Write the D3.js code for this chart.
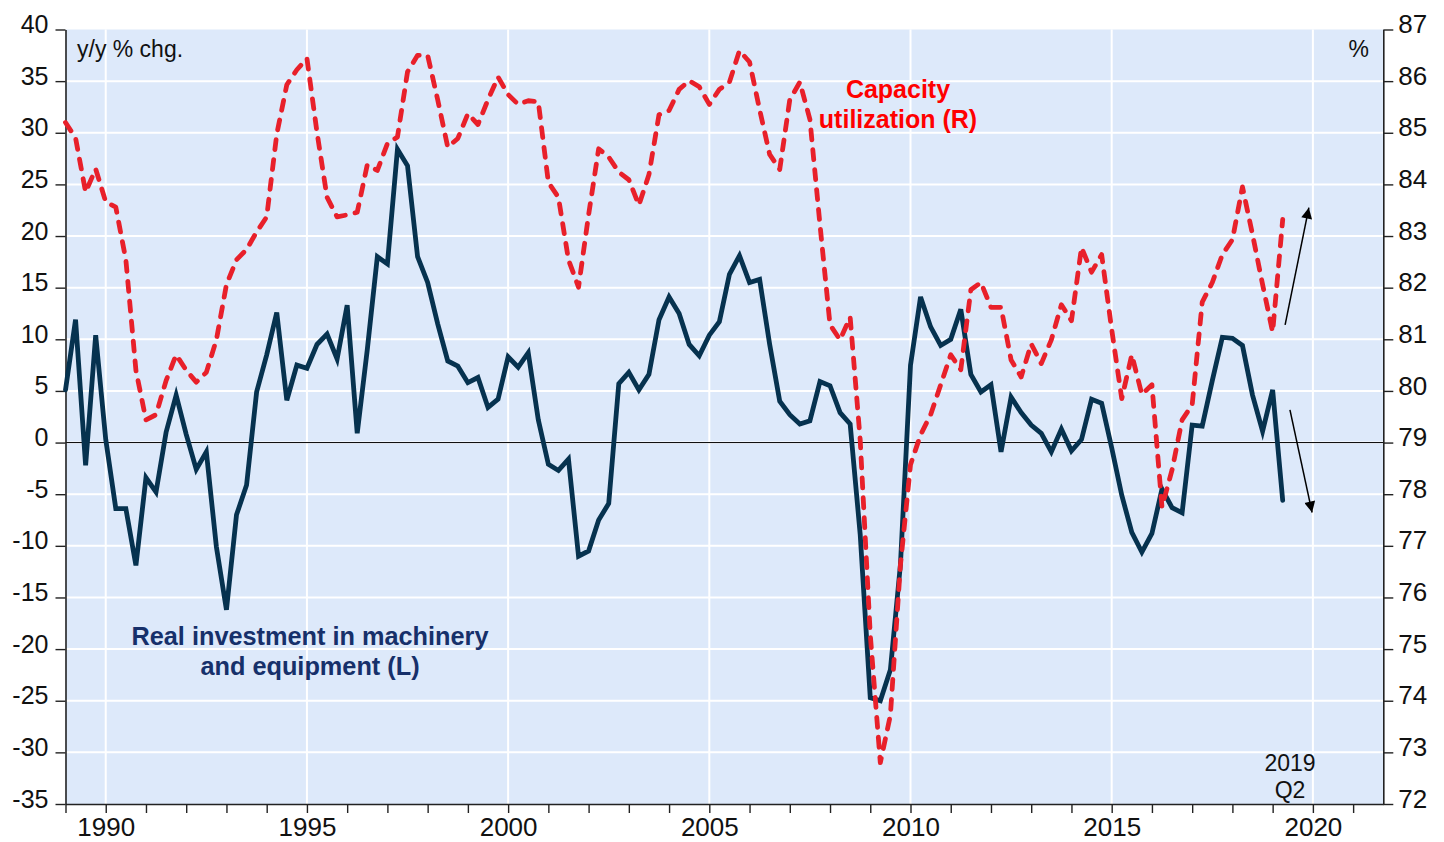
<!DOCTYPE html>
<html>
<head>
<meta charset="utf-8">
<script src="https://cdn.jsdelivr.net/npm/d3@7"></script>
<style>
  html, body { margin: 0; padding: 0; background: #ffffff; }
  svg { display: block; font-family: "Liberation Sans", Arial, sans-serif; }
</style>
</head>
<body>
<svg id="chart" width="1444" height="842"></svg>
<script>
// ---------------- data ----------------
const startYear = 1989;           // first quarter: 1989 Q1
const quartersPerYear = 4;

// Real investment in machinery and equipment, y/y % chg. (left axis)
const investment = [
  5.1, 11.9, -2.2, 10.4, 0.3, -6.4, -6.4, -11.9, -3.4, -4.8, 1.0, 4.6, 0.8, -2.6, -0.9, -10.1, -16.2, -7.0, -4.1, 4.9, 8.5, 12.6,
  4.1, 7.5, 7.2, 9.5, 10.5, 8.1, 13.3, 0.9, 9.0, 18.0, 17.3, 28.4, 26.8, 18.0, 15.5, 11.5, 7.9, 7.4, 5.8, 6.3, 3.4, 4.2,
  8.3, 7.3, 8.7, 2.2, -2.1, -2.7, -1.6, -11.0, -10.5, -7.5, -5.9, 5.7, 6.8, 5.1, 6.6, 11.9, 14.1, 12.5, 9.5, 8.4, 10.4, 11.7,
  16.3, 18.1, 15.5, 15.8, 9.5, 4.0, 2.7, 1.8, 2.1, 5.9, 5.5, 2.9, 1.8, -8.9, -24.7, -25.0, -22.0, -11.8, 7.5, 14.1, 11.2, 9.4,
  10.0, 12.9, 6.6, 4.9, 5.6, -0.9, 4.4, 2.9, 1.7, 0.9, -0.9, 1.3, -0.8, 0.3, 4.2, 3.8, -0.5, -5.1, -8.7, -10.6, -8.8, -4.5,
  -6.3, -6.8, 1.7, 1.6, 6.0, 10.2, 10.1, 9.4, 4.6, 1.1, 5.1, -5.6
];

// Capacity utilization, % (right axis)
const capacity = [
  85.2, 84.9, 83.85, 84.3, 83.66, 83.56, 82.54, 80.4, 79.44, 79.54, 80.2, 80.7, 80.4, 80.17, 80.36, 80.99, 82.06, 82.54, 82.74, 83.08, 83.37, 84.97,
  85.93, 86.22, 86.44, 85.01, 83.75, 83.37, 83.41, 83.46, 84.38, 84.27, 84.79, 84.92, 86.18, 86.5, 86.5, 85.64, 84.72, 84.89, 85.37, 85.16, 85.64, 86.08,
  85.74, 85.55, 85.62, 85.6, 84.04, 83.75, 82.54, 82.01, 83.41, 84.69, 84.53, 84.24, 84.09, 83.6, 84.19, 85.35, 85.43, 85.84, 86.01, 85.89, 85.55, 85.84,
  85.98, 86.59, 86.37, 85.45, 84.58, 84.29, 85.64, 85.98, 85.26, 83.22, 81.28, 80.99, 81.43, 79.05, 75.28, 72.8, 73.72, 76.63, 78.57, 79.15, 79.54, 80.12,
  80.7, 80.41, 81.96, 82.1, 81.62, 81.62, 80.6, 80.27, 80.91, 80.53, 80.99, 81.67, 81.36, 82.78, 82.3, 82.64, 81.19, 79.85, 80.7, 79.93, 80.12, 77.75,
  78.47, 79.44, 79.73, 81.72, 82.1, 82.64, 82.93, 83.95, 83.03, 82.06, 81.14, 83.32
];

const leftTicks  = [40, 35, 30, 25, 20, 15, 10, 5, 0, -5, -10, -15, -20, -25, -30, -35];
const rightTicks = [87, 86, 85, 84, 83, 82, 81, 80, 79, 78, 77, 76, 75, 74, 73, 72];
const yearTicks  = d3.range(1989, 2022);          // minor ticks every year
const yearLabels = [1990, 1995, 2000, 2005, 2010, 2015, 2020];

const leftUnit  = "y/y % chg.";
const rightUnit = "%";
const invLabel  = ["Real investment in machinery", "and equipment (L)"];
const capLabel  = ["Capacity", "utilization (R)"];
const lastLabel = ["2019", "Q2"];

// ---------------- layout ----------------
const plot = { left: 65.5, right: 1383.3, top: 29.5, bottom: 804 };
const bg = "#dde9fa";
const navy = "#06324f";
const red = "#e8202a";

const svg = d3.select("#chart");

const x  = d3.scaleLinear().domain([1989, 2021.75]).range([plot.left, plot.right]);
const yL = d3.scaleLinear().domain([-35, 40]).range([plot.bottom, plot.top]);
const yR = d3.scaleLinear().domain([72, 87]).range([plot.bottom, plot.top]);

const t = i => startYear + i / quartersPerYear;

// background
svg.append("rect")
  .attr("x", plot.left).attr("y", plot.top)
  .attr("width", plot.right - plot.left).attr("height", plot.bottom - plot.top)
  .attr("fill", bg);

// grid
const grid = svg.append("g");
grid.selectAll("line.h").data(leftTicks.filter(v => v > -35 && v < 40)).join("line")
  .attr("x1", plot.left).attr("x2", plot.right)
  .attr("y1", d => yL(d)).attr("y2", d => yL(d))
  .attr("stroke", "#ffffff").attr("stroke-width", 2);
grid.selectAll("line.v").data(yearLabels).join("line")
  .attr("x1", d => x(d)).attr("x2", d => x(d))
  .attr("y1", plot.top).attr("y2", plot.bottom)
  .attr("stroke", "#ffffff").attr("stroke-width", 2);

// zero line
svg.append("line")
  .attr("x1", plot.left).attr("x2", plot.right)
  .attr("y1", yL(0)).attr("y2", yL(0))
  .attr("stroke", "#000").attr("stroke-width", 1);

// axes (plain hyphen for negatives, as in the original)
const plain = d => String(d);
const gL = svg.append("g").attr("transform", `translate(${plot.left},0)`)
  .call(d3.axisLeft(yL).tickValues(leftTicks).tickFormat(plain).tickSize(10).tickPadding(7).tickSizeOuter(0));
gL.selectAll("text").attr("font-size", 25).attr("dy", "0.12em").attr("fill", "#111");

const gR = svg.append("g").attr("transform", `translate(${plot.right},0)`)
  .call(d3.axisRight(yR).tickValues(rightTicks).tickFormat(plain).tickSize(10).tickPadding(5).tickSizeOuter(0));
gR.selectAll("text").attr("font-size", 26).attr("dy", "0.12em").attr("fill", "#111");

const gB = svg.append("g").attr("transform", `translate(0,${plot.bottom})`)
  .call(d3.axisBottom(x).tickValues(yearTicks).tickSize(9).tickSizeOuter(0)
    .tickFormat(d => yearLabels.includes(d) ? String(d) : ""));
gB.selectAll("text").attr("font-size", 26).attr("y", 32).attr("dy", 0).attr("fill", "#111");

[gL, gR, gB].forEach(g => {
  g.select(".domain").attr("stroke", "#222").attr("stroke-width", 1.6);
  g.selectAll(".tick line").attr("stroke", "#222").attr("stroke-width", 1.4);
  g.attr("font-family", "Liberation Sans, Arial, sans-serif");
});

// lines
const lineL = d3.line().x((d, i) => x(t(i))).y(d => yL(d));
const lineR = d3.line().x((d, i) => x(t(i))).y(d => yR(d));

svg.append("path").datum(investment)
  .attr("d", lineL).attr("fill", "none")
  .attr("stroke", navy).attr("stroke-width", 4.8)
  .attr("stroke-linejoin", "miter").attr("stroke-linecap", "round");

svg.append("path").datum(capacity)
  .attr("d", lineR).attr("fill", "none")
  .attr("stroke", red).attr("stroke-width", 4.8)
  .attr("stroke-dasharray", "10,10").attr("stroke-linecap", "round")
  .attr("stroke-linejoin", "round");

// text annotations
svg.append("text").attr("x", 77).attr("y", 57)
  .attr("font-size", 23).attr("fill", "#111").text(leftUnit);
svg.append("text").attr("x", 1369).attr("y", 57).attr("text-anchor", "end")
  .attr("font-size", 23).attr("fill", "#111").text(rightUnit);

const invText = svg.append("text").attr("text-anchor", "middle")
  .attr("font-size", 25.3).attr("font-weight", "bold").attr("fill", "#16306a");
invLabel.forEach((s, i) => invText.append("tspan").attr("x", 310).attr("y", 645 + i * 30).text(s));

const capText = svg.append("text").attr("text-anchor", "middle")
  .attr("font-size", 25).attr("font-weight", "bold").attr("fill", "#ff0000");
capLabel.forEach((s, i) => capText.append("tspan").attr("x", 898).attr("y", 98 + i * 30).text(s));

const lastText = svg.append("text").attr("text-anchor", "middle")
  .attr("font-size", 23).attr("fill", "#111");
lastLabel.forEach((s, i) => lastText.append("tspan").attr("x", 1290).attr("y", 771 + i * 27).text(s));

// arrows
const defs = svg.append("defs");
defs.append("marker").attr("id", "arrow")
  .attr("viewBox", "0 0 10 10").attr("refX", 10).attr("refY", 5)
  .attr("markerUnits", "userSpaceOnUse")
  .attr("markerWidth", 14).attr("markerHeight", 11)
  .attr("orient", "auto")
  .append("path").attr("d", "M0,0 L10,5 L0,10 Z").attr("fill", "#000");

const arrows = [
  { x1: 2019.31, v1: yR(81.28), x2: 2019.90, v2: yR(83.55) },
  { x1: 2019.43, v1: yL(3.16),  x2: 2019.98, v2: yL(-6.77) }
];
svg.selectAll("line.arrow").data(arrows).join("line")
  .attr("class", "arrow")
  .attr("x1", d => x(d.x1)).attr("y1", d => d.v1)
  .attr("x2", d => x(d.x2)).attr("y2", d => d.v2)
  .attr("stroke", "#000").attr("stroke-width", 1.5)
  .attr("marker-end", "url(#arrow)");
</script>
</body>
</html>
